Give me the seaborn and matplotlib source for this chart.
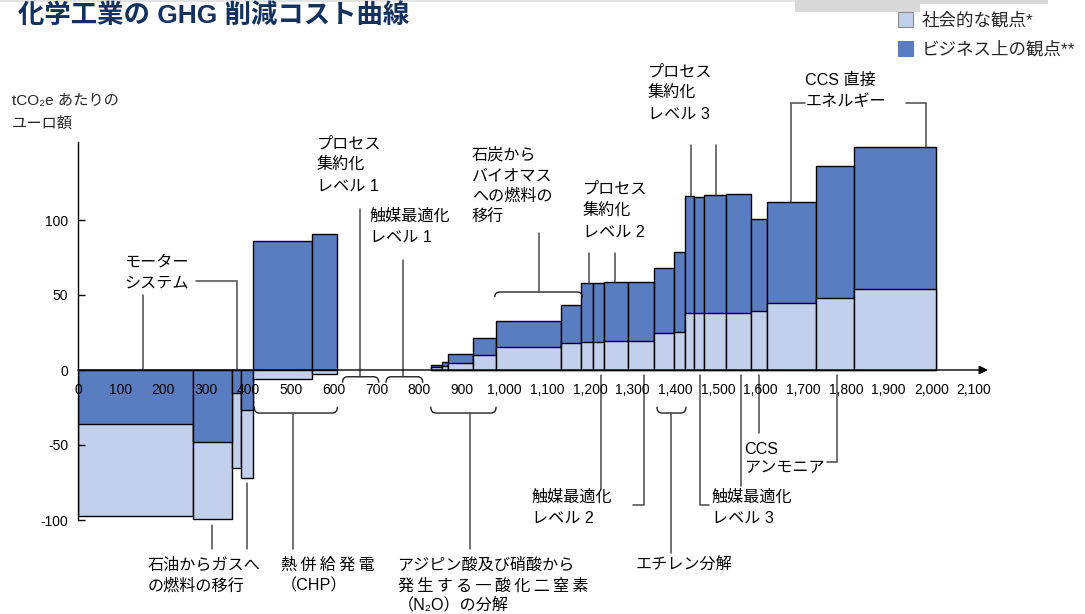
import numpy as np
import pandas as pd
import matplotlib
matplotlib.use("Agg")
import matplotlib.pyplot as plt
from matplotlib.path import Path
from matplotlib.patches import PathPatch, Rectangle
import seaborn as sns

# ---- data: abatement measures (width = abatement volume, height = cost per tCO2e)
widths = [270, 91, 21, 29, 137, 60, 107, 112, 27, 13, 58, 55, 152, 48,
          27, 26, 57, 61, 47, 24, 23, 22, 52, 58, 37, 115, 91, 190]
social = [-97.5, -99, -65.5, -71.8, -6, -2.5, 0, 0, 1.8, 2.7, 4.9, 9.8, 15.3, 17.8,
          18.9, 18.9, 19.1, 19.1, 24.4, 25.1, 38, 38, 38.2, 38.2, 39.6, 44.9, 48.2, 53.8]
business = [-36, -48, -15, -26.7, 85.8, 91, 0, 0, 3.3, 5.3, 10.4, 21.6, 32.7, 43.3,
            58, 57.8, 58.4, 58.4, 68.2, 78.4, 115.8, 115.6, 117, 117.1, 100.7, 111.8, 135.8, 148.4]
x_ticks = list(range(0, 2101, 100))
y_ticks = [-100, -50, 0, 50, 100]

title = "化学工業の GHG 削減コスト曲線"
legend_labels = ["社会的な観点*", "ビジネス上の観点**"]
y_label_lines = ["tCO₂e あたりの", "ユーロ額"]

LIGHT = "#C2D0EC"
DARK = "#5A7CC1"
NAVY = "#12315E"
LEAD = "#4a4a4a"
TS = "\u2009"  # thin space used for letter-spaced labels

sns.set_theme(style="white")
plt.rcParams["font.family"] = ["Liberation Sans", "Noto Sans CJK JP", "DejaVu Sans"]

W, H = 1085, 614
fig = plt.figure(figsize=(W / 100, H / 100), dpi=100)
ax = fig.add_axes([78 / W, 1 - 521.5 / H, 910 / W, 379.5 / H])
ax.set_xlim(0, 2133)
ax.set_ylim(-101, 152)

df = pd.DataFrame({"width": widths, "social": social, "business": business})
df["left"] = df["width"].cumsum() - df["width"]
edges = list(df["left"]) + [df["left"].iloc[-1] + df["width"].iloc[-1]]
bars = df[(df["social"] != 0) | (df["business"] != 0)]

# both perspectives are drawn from zero; the larger magnitude sits behind
soc_back = bars["social"].abs() >= bars["business"].abs()
back_h = np.where(soc_back, bars["social"], bars["business"])
back_c = np.where(soc_back, LIGHT, DARK)
front_h = np.where(soc_back, bars["business"], bars["social"])
front_c = np.where(soc_back, DARK, LIGHT)
ax.bar(bars["left"], back_h, width=bars["width"], align="edge", color=back_c,
       edgecolor="black", linewidth=1.0, zorder=2)
ax.bar(bars["left"], front_h, width=bars["width"], align="edge", color=front_c,
       edgecolor="black", linewidth=1.0, zorder=3)

# axes styling
for s in ["top", "right"]:
    ax.spines[s].set_visible(False)
ax.spines["bottom"].set_position(("data", 0))
ax.spines["bottom"].set_visible(False)
ax.spines["left"].set_color("black")
ax.spines["left"].set_linewidth(1.0)
ax.spines["left"].set_bounds(-100, 152)
ax.spines["left"].set_zorder(8)
ax.set_yticks(y_ticks)
ax.set_yticklabels([str(v) for v in y_ticks])
ax.set_xticks(x_ticks)
ax.set_xticklabels([f"{v:,}" for v in x_ticks])
ax.tick_params(axis="y", direction="in", length=5, width=1, color="black",
               pad=7, labelsize=10, labelcolor="black", left=True)
ax.tick_params(axis="x", length=0, pad=9, labelsize=10, labelcolor="black")
ax.xaxis.set_zorder(8)
ax.yaxis.set_zorder(8)
ax.annotate("", xy=(2133, 0), xytext=(0, 0), annotation_clip=False,
            arrowprops=dict(arrowstyle="-|>", color="black", lw=1.0,
                            mutation_scale=13, shrinkA=0, shrinkB=0), zorder=6)


def lines(x, ys, texts, size=11.6):
    for y, t in zip(ys, texts):
        ax.text(x, y, t, fontsize=size, ha="left", va="center", color="black",
                clip_on=False, zorder=7)


def leader(pts):
    xs, ys = zip(*pts)
    ax.plot(xs, ys, color=LEAD, lw=1.1, clip_on=False, zorder=5,
            solid_joinstyle="miter")


def bracket(x0, x1, y_end, y_line, r=12):
    verts = [(x0, y_end), (x0, y_line), (x0 + r, y_line),
             (x1 - r, y_line), (x1, y_line), (x1, y_end)]
    codes = [Path.MOVETO, Path.CURVE3, Path.CURVE3,
             Path.LINETO, Path.CURVE3, Path.CURVE3]
    ax.add_patch(PathPatch(Path(verts, codes), fill=False, edgecolor="#222222",
                           lw=1.0, clip_on=False, zorder=5))


# labels and leaders
lines(108, [72, 58], ["モーター", "システム"])
leader([(152, 50), (152, 0)])
leader([(276, 59.3), (372, 59.3), (372, 0)])

lines(164, [-130, -144], ["石油からガスへ", "の燃料の移行"])
leader([(314, -103.3), (314, -119)])
leader([(397, -75.3), (397, -119)])

lines(475, [-130, -144], [TS.join("熱併給発電"), "（CHP）"])
bracket(edges[4] + 2, edges[6], -24.5, -28.7)
leader([(503.5, -28.7), (503.5, -119)])

lines(749, [-130, -144, -157.3],
      ["アジピン酸及び硝酸から", TS.join("発生する一酸化二窒素"), "（N₂O）の分解"])
bracket(edges[8], edges[12], -24.5, -28.7)
leader([(918, -28.7), (918, -119)])

lines(1307, [-130], ["エチレン分解"])
bracket(edges[18] + 6, edges[20] + 3, -24.5, -28.7)
leader([(1391, -28.7), (1391, -122)])

lines(1063, [-84.7, -98.7], ["触媒最適化", "レベル 2"])
leader([(1225, -3), (1225, -79)])
leader([(1326, -3), (1326, -90), (1300, -90)])

lines(1485, [-84.7, -98.7], ["触媒最適化", "レベル 3"])
leader([(1459, -3), (1459, -90), (1480, -90)])
leader([(1553, -3), (1553, -77)])

lines(1562, [-53.3, -65.3], ["CCS", "アンモニア"])
leader([(1597, -3), (1597, -42)])
leader([(1780, -3), (1780, -61.3), (1756, -61.3)])

lines(560, [150.7, 136.7, 122.7], ["プロセス", "集約化", "レベル 1"])
bracket(edges[6] + 12, edges[7] - 10, -8.5, -4.5)
leader([(660, 107.3), (660, -4.5)])

lines(684, [102.7, 88.7], ["触媒最適化", "レベル 1"])
bracket(edges[7] + 7, edges[8] - 19, -8.5, -4.5)
leader([(761, 73.3), (761, -4.5)])

lines(923, [143.3, 129.3, 116, 102], ["石炭から", "バイオマス", "への燃料の", "移行"])
bracket(edges[12] - 3, edges[14] + 2, 48.7, 52)
leader([(1080, 91.3), (1080, 52)])

lines(1183, [120.7, 106, 92], ["プロセス", "集約化", "レベル 2"])
leader([(1197, 78), (1197, business[14])])
leader([(1258, 78), (1258, business[16])])

lines(1335, [198.7, 184.7, 170.7], ["プロセス", "集約化", "レベル 3"])
leader([(1438, 150), (1438, business[20])])
leader([(1496, 150), (1496, business[22])])

lines(1705, [193.3, 179.3], ["CCS 直接", "エネルギー"])
leader([(1703, 178), (1672, 178), (1672, business[25])])
leader([(1941, 178), (1988, 178), (1988, business[27])])


def fx(px):
    return px / W


def fy(py):
    return 1 - py / H


# header band
fig.add_artist(Rectangle((fx(0), fy(2)), fx(1048), 2 / H, transform=fig.transFigure,
                         facecolor="#E3E3E3", edgecolor="none"))
fig.add_artist(Rectangle((fx(795), fy(12)), fx(920) - fx(795), 12 / H,
                         transform=fig.transFigure, facecolor="#D9D9D9", edgecolor="none"))
fig.add_artist(Rectangle((fx(920), fy(4)), fx(1048) - fx(920), 4 / H,
                         transform=fig.transFigure, facecolor="#D9D9D9", edgecolor="none"))

fig.text(fx(18), fy(16), title, fontsize=19, fontweight="bold", color=NAVY,
         ha="left", va="center")

# y-axis caption
fig.text(fx(12), fy(101), y_label_lines[0], fontsize=11, ha="left", va="center")
fig.text(fx(12), fy(124), y_label_lines[1], fontsize=11, ha="left", va="center")

# legend
for (top, color, ec), text in zip([(12, LIGHT, "#8a8a8a"), (41, DARK, DARK)], legend_labels):
    fig.add_artist(Rectangle((fx(898), fy(top + 15)), 15 / W, 15 / H,
                             transform=fig.transFigure, facecolor=color,
                             edgecolor=ec, lw=0.8))
    fig.text(fx(922), fy(top + 8), text, fontsize=12.6, ha="left", va="center")

fig.savefig("out.png", dpi=100)
